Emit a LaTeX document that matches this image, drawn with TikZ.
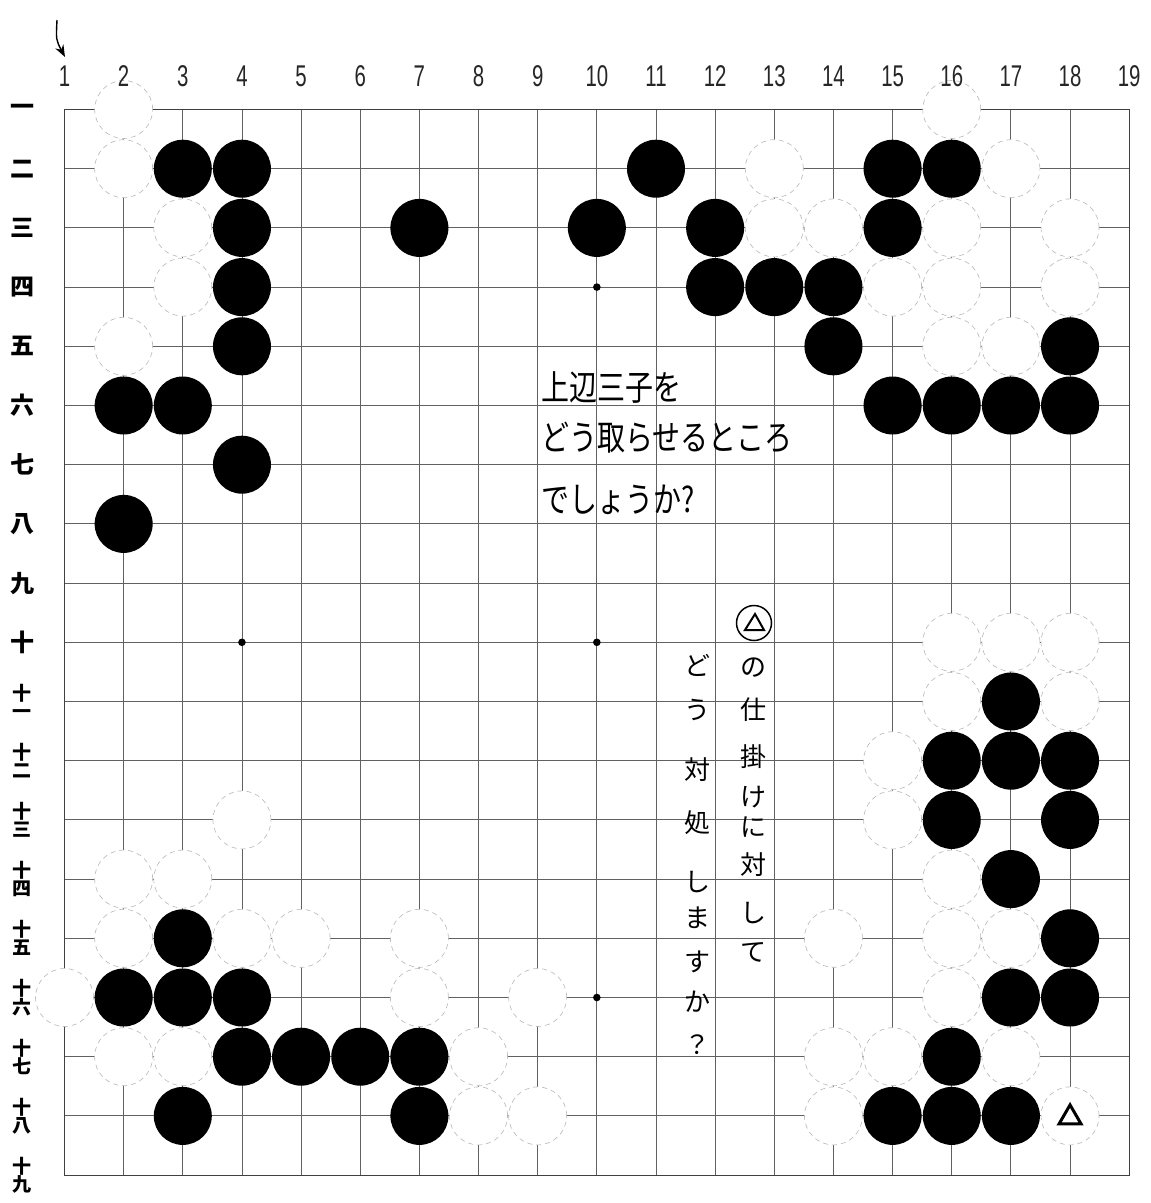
\documentclass[tikz,border=0pt]{standalone}
\usepackage{fontspec}
\setmainfont{Liberation Sans}
\newfontfamily\jp{Noto Sans CJK JP}
\usetikzlibrary{arrows.meta}
\tikzset{
  gridline/.style={draw=black!62, line width=0.9pt},
  boardedge/.style={draw=black!75, line width=1.2pt},
  bstone/.style={circle, fill=black, minimum size=58pt, inner sep=0pt},
  wstone/.style={circle, fill=white, draw=black!28, line width=0.6pt, dash pattern=on 5pt off 4pt, minimum size=58pt, inner sep=0pt},
  collabel/.style={font=\fontsize{30}{30}\selectfont, text=black!85, inner sep=0pt},
  rowlabel/.style={font=\jp\bfseries\fontsize{24}{24}\selectfont, inner sep=0pt, align=center},
  rowlabeltwo/.style={font=\jp\bfseries\fontsize{19}{18}\selectfont, inner sep=0pt, align=center},
  hand/.style={font=\jp\fontsize{28}{28}\selectfont, inner sep=0pt},
  vchar/.style={font=\jp\fontsize{26}{26}\selectfont, inner sep=0pt},
}
\begin{document}
\begin{tikzpicture}[x=1pt,y=-1pt]
\path[use as bounding box] (0,0) rectangle (1151,1203);
\fill[white] (0,0) rectangle (1151,1203);
\begin{scope}[shift={(5.35,50.3)}, x=59.15pt, y=-59.2pt]
  \foreach \i in {2,...,18} {
    \draw[gridline] (\i,1) -- (\i,19);
    \draw[gridline] (1,\i) -- (19,\i);
  }
  \draw[boardedge] (1,1) rectangle (19,19);
  \foreach \c in {4,10,16} \foreach \r in {4,10,16} \fill (\c,\r) circle (3.8pt);
  \foreach \c/\r in {2/1,16/1, 2/2,13/2,17/2, 3/3,13/3,14/3,16/3,18/3, 3/4,15/4,16/4,18/4, 2/5,16/5,17/5, 16/10,17/10,18/10, 16/11,18/11, 15/12, 15/13, 4/13, 2/14,3/14,16/14, 2/15,4/15,5/15,7/15,14/15,16/15,17/15, 1/16,7/16,9/16,16/16, 2/17,3/17,8/17,14/17,15/17,17/17, 8/18,9/18,14/18,18/18}
    \node[wstone] (w-\c-\r) at (\c,\r) {};
  \foreach \c/\r in {3/2,4/2,11/2,15/2,16/2, 4/3,7/3,10/3,12/3,15/3, 4/4,12/4,13/4,14/4, 4/5,14/5,18/5, 2/6,3/6,15/6,16/6,17/6,18/6, 4/7, 2/8, 17/11, 16/12,17/12,18/12, 16/13,18/13, 17/14, 3/15,18/15, 2/16,3/16,4/16,17/16,18/16, 4/17,5/17,6/17,7/17,16/17, 3/18,7/18,15/18,16/18,17/18}
    \node[bstone] (b-\c-\r) at (\c,\r) {};
  \draw[line width=3pt, line join=miter]
    ([shift={(0pt,11pt)}]w-18-18.center) -- ([shift={(-11pt,-8pt)}]w-18-18.center)
    -- ([shift={(11pt,-8pt)}]w-18-18.center) -- cycle;
  \foreach \c in {1,...,19}
    \node[collabel] (col-\c) at (\c,0.434) {\scalebox{0.68}[1]{\c}};
  \foreach \r/\t in {1/一,2/二,3/三,4/四,5/五,6/六,7/七,8/八,9/九,10/十}
    \node[rowlabel] (rl-\r) at (0.2815,\r) {\t};
  \foreach \r/\t in {11/一,12/二,13/三,14/四,15/五,16/六,17/七,18/八,19/九}
    \node[rowlabeltwo] (rl-\r) at (0.2815,\r) {十\\\t};
\end{scope}
% arrow to column 1
\coordinate (arrtail) at (57,20);
\coordinate (arrhead) at (65,57);
\draw[line width=1.4pt, -{Stealth[length=12pt,width=9pt]}] (arrtail) .. controls (56,40) .. (arrhead);
% horizontal handwritten question
\node[hand, anchor=west] (q1) at (541,388) {\scalebox{1}[1.25]{上辺三子を}};
\node[hand, anchor=west] (q2) at (541,438) {\scalebox{1}[1.25]{どう取らせるところ}};
\node[hand, anchor=west] (q3) at (541,500) {\scalebox{1}[1.25]{でしょうか?}};
% circled triangle
\node[draw, circle, line width=1.5pt, minimum size=35pt, inner sep=0pt] (trimark) at (754,623) {};
\draw[line width=2pt, line join=miter]
  ([shift={(1pt,9pt)}]trimark.center) -- ([shift={(-9pt,-7pt)}]trimark.center)
  -- ([shift={(10pt,-7pt)}]trimark.center) -- cycle;
% vertical text, right column
\foreach \ch/\yy [count=\k] in {の/668,仕/710,掛/757,け/797,に/827,対/865,し/913,て/952}
  \node[vchar] (vr-\k) at (753,\yy) {\ch};
% vertical text, left column
\foreach \ch/\yy [count=\k] in {ど/665,う/710,対/770,処/823,し/882,ま/918,す/962,か/1002,？/1045}
  \node[vchar] (vl-\k) at (697,\yy) {\ch};
\end{tikzpicture}
\end{document}
